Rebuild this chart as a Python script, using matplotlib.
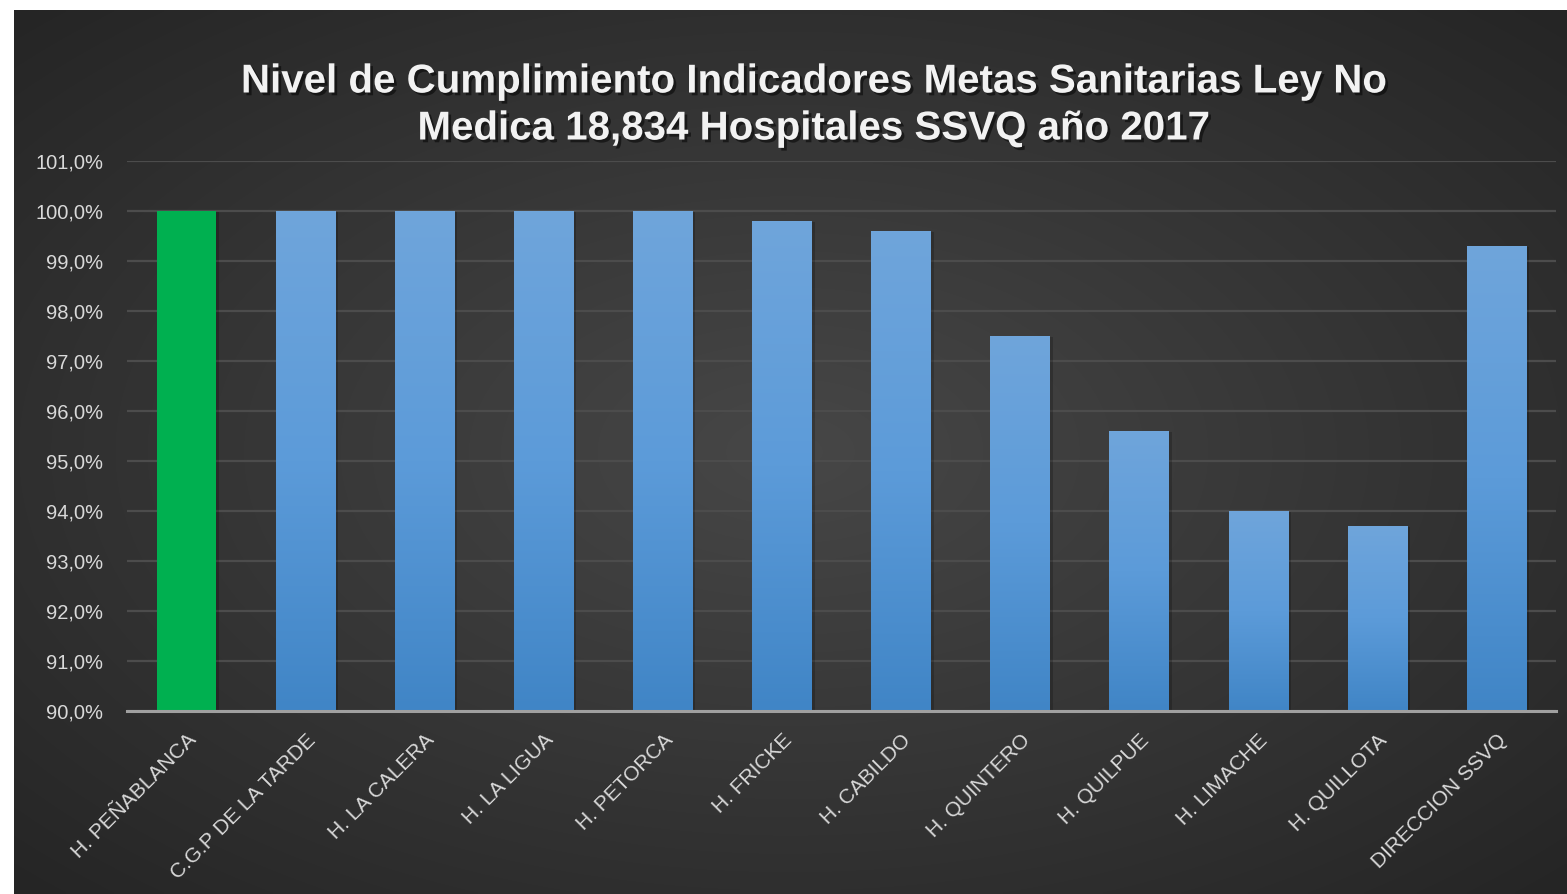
import numpy as np
import matplotlib
matplotlib.use("Agg")
import matplotlib.pyplot as plt
import matplotlib.patheffects as pe
from matplotlib.ticker import FuncFormatter
from matplotlib.colors import LinearSegmentedColormap

categories = ["H. PEÑABLANCA", "C.G.P DE LA TARDE", "H. LA CALERA", "H. LA LIGUA",
              "H. PETORCA", "H. FRICKE", "H. CABILDO", "H. QUINTERO", "H. QUILPUE",
              "H. LIMACHE", "H. QUILLOTA", "DIRECCION SSVQ"]
values = [100.0, 100.0, 100.0, 100.0, 100.0, 99.8, 99.6, 97.5, 95.6, 94.0, 93.7, 99.3]
title = "Nivel de Cumplimiento Indicadores Metas Sanitarias Ley No\nMedica 18,834 Hospitales SSVQ año 2017"

W, H = 1567, 894
fig = plt.figure(figsize=(W / 100, H / 100), dpi=100)
fig.patch.set_facecolor("white")

# dark background panel with radial gradient
bg = fig.add_axes([14 / W, 0, 1 - 14 / W, 1 - 10 / H])
bg.set_axis_off()
yy, xx = np.mgrid[0:1:300j, 0:1:500j]
d = np.sqrt(((xx - 0.5) / 0.75) ** 2 + ((yy - 0.5) / 0.75) ** 2)
lev = np.clip(0x47 - (0x47 - 0x25) * (d / 0.94), 0x25, 0x47) / 255.0
img = np.dstack([lev, lev, lev])
bg.imshow(img, aspect="auto", extent=[0, 1, 0, 1], interpolation="bilinear")
bg.set_xlim(0, 1)
bg.set_ylim(0, 1)

x0, x1 = 127, 1556
ytop, ybot = 161, 711
ax = fig.add_axes([x0 / W, 1 - ybot / H, (x1 - x0) / W, (ybot - ytop) / H])
ax.patch.set_alpha(0)
ax.set_ylim(90, 101)
ax.set_xlim(-0.5, len(categories) - 0.5)
ax.set_yticks(np.arange(90, 101.5, 1))
ax.yaxis.set_major_formatter(FuncFormatter(lambda v, p: f"{v:.1f}%".replace(".", ",")))
ax.grid(axis="y", color="#4C4C4C", linewidth=1.6)
ax.set_axisbelow(True)
for s in ["top", "right", "left"]:
    ax.spines[s].set_visible(False)
ax.spines["bottom"].set_color("#A0A0A0")
ax.spines["bottom"].set_linewidth(2.2)
ax.spines["bottom"].set_zorder(6)
ax.tick_params(axis="both", length=0, colors="#D9D9D9")
ax.tick_params(axis="y", pad=17)
for lab in ax.get_yticklabels():
    lab.set_fontfamily("Liberation Sans")
    lab.set_fontsize(14.5)

xpos = np.arange(len(categories))
width = 0.5
bars = ax.bar(xpos, [v - 90 for v in values], bottom=90, width=width,
              color="#5B9BD5", zorder=3,
              path_effects=[pe.SimplePatchShadow(offset=(2, -1), shadow_rgbFace="black", alpha=0.2), pe.Normal()])
grad = np.linspace(0, 1, 256).reshape(-1, 1)
cmap = LinearSegmentedColormap.from_list("bl", ["#4085C6", "#5C9BD9", "#6FA5DB"])
for i, b in enumerate(bars):
    if i == 0:
        b.set_facecolor("#00B050")
        continue
    bx, by = b.get_x(), b.get_y()
    bw, bh = b.get_width(), b.get_height()
    im = ax.imshow(grad, cmap=cmap, aspect="auto", origin="lower",
                   extent=[bx, bx + bw, by, by + bh], zorder=4)
    im.set_clip_path(b)
ax.set_xlim(-0.5, len(categories) - 0.5)
ax.set_ylim(90, 101)

ax.set_xticks(xpos)
ax.set_xticklabels(categories, rotation=45, ha="right", va="top",
                   rotation_mode="anchor", fontsize=15, color="#D9D9D9",
                   family="Liberation Sans")
ax.tick_params(axis="x", pad=14)

fig.text(0.519, 1 - 105 / H, title, ha="center", va="center", fontsize=29,
         fontweight="bold", color="#F2F2F2", family="Liberation Sans",
         linespacing=1.3,
         path_effects=[pe.withSimplePatchShadow(offset=(2, -2), shadow_rgbFace="black", alpha=0.5)])

fig.savefig("out.png", dpi=100, facecolor=fig.get_facecolor())
